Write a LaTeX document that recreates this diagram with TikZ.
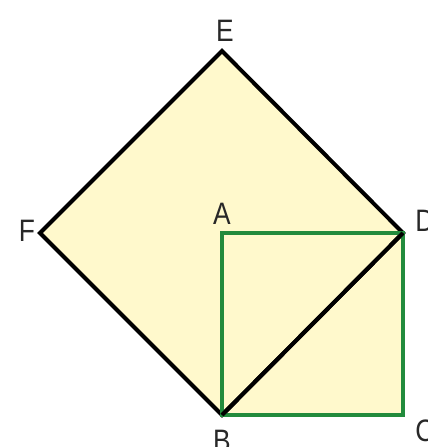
\documentclass[tikz,border=0pt]{standalone}
\usepackage{fontspec}
\setmainfont{Liberation Sans}
\definecolor{fillyel}{RGB}{255,249,204}
\definecolor{sqgreen}{RGB}{34,139,60}
\definecolor{lbl}{RGB}{40,40,40}
\tikzset{
  lab/.style={font=\fontsize{31}{31}\selectfont, text=lbl, inner sep=0pt, xscale=0.85},
  blk/.style={draw=black, line width=4pt, line join=miter},
  grn/.style={draw=sqgreen, line width=4pt, line join=miter}
}
\begin{document}
\begin{tikzpicture}[x=1pt,y=-1pt]
\useasboundingbox (0,0) rectangle (428,447);
\coordinate (E) at (222,51);
\coordinate (F) at (40,233);
\coordinate (D) at (403,233);
\coordinate (B) at (222,415);
\coordinate (A) at (222,233);
\coordinate (C) at (403,415);
\fill[fillyel] (E) -- (D) -- (C) -- (B) -- (F) -- cycle;
\draw[blk] (E) -- (D) -- (B) -- (F) -- cycle;
\draw[grn] (A) -- (D) -- (C) -- (B) -- cycle;
\draw[blk] (D) -- (B);
\node[lab] (lE) at (225,31) {E};
\node[lab] (lF) at (27,231) {F};
\node[lab] (lA) at (222,214) {A};
\node[lab] (lD) at (425,221) {D};
\node[lab] (lB) at (222,441) {B};
\node[lab] (lC) at (425,431) {C};
\end{tikzpicture}
\end{document}
